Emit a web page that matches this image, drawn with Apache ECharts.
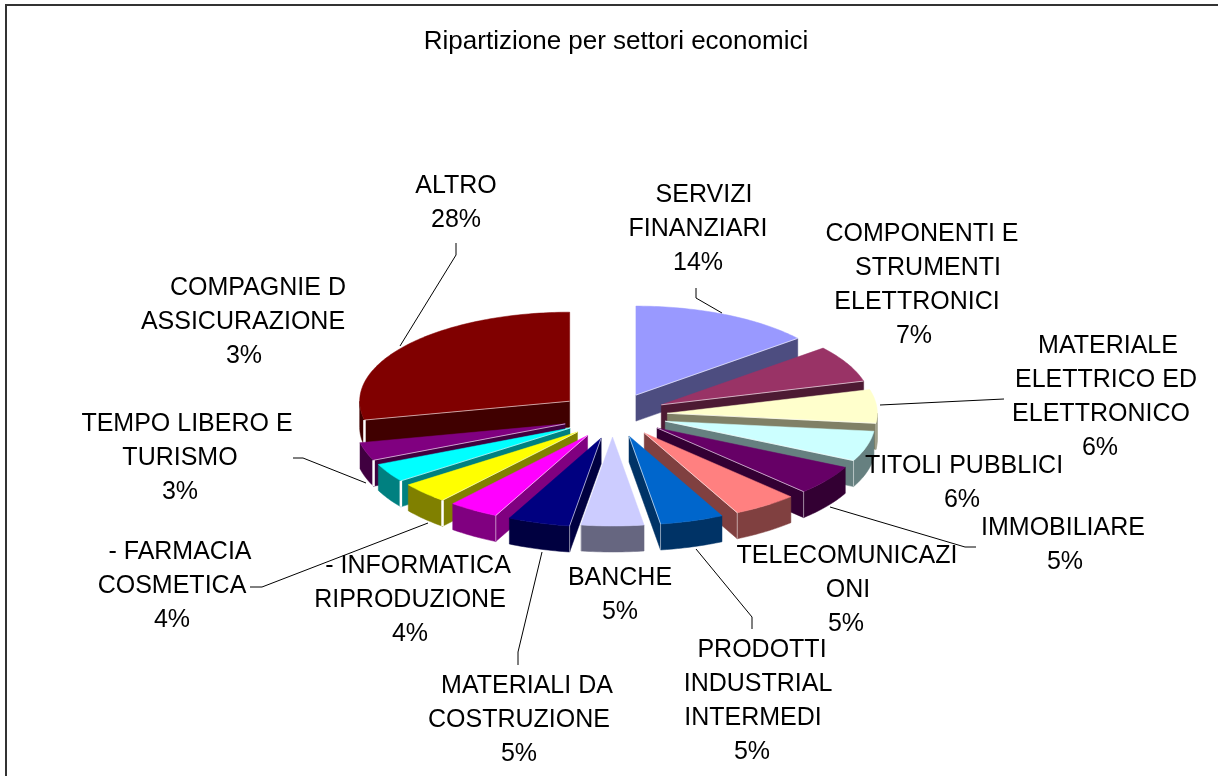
<!DOCTYPE html>
<html>
<head>
<meta charset="utf-8">
<style>
  html, body { margin: 0; padding: 0; background: #fff; }
  #chart { width: 1218px; height: 776px; }
</style>
<script src="https://cdn.jsdelivr.net/npm/echarts@6/dist/echarts.min.js"></script>
</head>
<body>
<div id="chart"></div>
<script>
const chartTitle = 'Ripartizione per settori economici'
const sectors = [
  ['SERVIZI', 'FINANZIARI'],
  ['COMPONENTI E', 'STRUMENTI', 'ELETTRONICI'],
  ['MATERIALE', 'ELETTRICO ED', 'ELETTRONICO'],
  ['TITOLI PUBBLICI'],
  ['IMMOBILIARE'],
  ['TELECOMUNICAZI', 'ONI'],
  ['PRODOTTI', 'INDUSTRIAL', 'INTERMEDI'],
  ['BANCHE'],
  ['MATERIALI DA', 'COSTRUZIONE'],
  ['- INFORMATICA', 'RIPRODUZIONE'],
  ['- FARMACIA', 'COSMETICA'],
  ['TEMPO LIBERO E', 'TURISMO'],
  ['COMPAGNIE D', 'ASSICURAZIONE'],
  ['ALTRO'],
]
// labels show these rounded, the slice widths give the decimals
const shares = [14, 6.7, 6.1, 5.5, 5.4, 5, 4.9, 4.8, 4.8, 3.9, 3.8, 3.4, 3.3, 28.4]
const sliceColors = [
  '#9999FF', '#993366', '#FFFFCC', '#CCFFFF', '#660066', '#FF8080', '#0066CC',
  '#CCCCFF', '#000080', '#FF00FF', '#FFFF00', '#00FFFF', '#800080', '#800000',
]

// 3D pie geometry
const pie = { cx: 612.5, cy: 415, a: 210, b: 89, depth: 26, explodeX: 55, explodeY: 22 }

// where each label line sits: centre x of each line, y of the first line
const labelPlaces = [
  { xs: [704, 698, 698], y: 194 },
  { xs: [922, 928, 917, 914], y: 233 },
  { xs: [1108, 1106, 1101, 1100], y: 345 },
  { xs: [964, 962], y: 465 },
  { xs: [1063, 1065], y: 527 },
  { xs: [847, 848, 846], y: 555 },
  { xs: [762, 758, 753, 752], y: 649 },
  { xs: [620, 620], y: 577 },
  { xs: [527, 519, 519], y: 685 },
  { xs: [418, 410, 410], y: 565 },
  { xs: [180, 172, 172], y: 551 },
  { xs: [187, 180, 180], y: 423 },
  { xs: [258, 243, 244], y: 287 },
  { xs: [456, 456], y: 185 },
]
const LINE_HEIGHT = 34

// leader lines
const leaders = [
  [[456, 243], [456, 255], [400, 346]],
  [[696, 288], [696, 298], [722, 313]],
  [[1004, 399], [880, 405]],
  [[976, 547], [965, 547], [830, 507]],
  [[696, 549], [752, 617], [752, 629]],
  [[542, 552], [518, 652], [518, 665]],
  [[250, 587], [262, 587], [428, 523]],
  [[293, 458], [303, 458], [366, 483]],
]

const RAD = Math.PI / 180
const total = shares.reduce((s, v) => s + v, 0)

// start / end angle (degrees, clockwise from 12 o'clock) of every slice
let running = 0
const angles = shares.map((v) => {
  const start = (running / total) * 360
  running += v
  return [start, (running / total) * 360]
})

// back slices have to be painted first
const paintOrder = shares
  .map((v, i) => i)
  .sort((p, q) => {
    const mid = (i) => (angles[i][0] + angles[i][1]) / 2
    return -Math.cos(mid(p) * RAD) + Math.cos(mid(q) * RAD)
  })

const darken = (hex) => echarts.color.lerp(0.5, [hex, '#000000'])

const renderSlice = (params, api) => {
  const i = api.value(0)
  const [start, end] = [api.value(1), api.value(2)]
  const mid = ((start + end) / 2) * RAD
  // the perspective of the original pushes the front left slices in a little
  const frontLeft = Math.sin(mid) < -0.1 && Math.cos(mid) < 0
  const ox = pie.cx + pie.explodeX * Math.sin(mid) + (frontLeft ? 5 : 0)
  const oy = pie.cy - pie.explodeY * Math.cos(mid) + (frontLeft ? 2 : 0)
  const rim = (deg) => [ox + pie.a * Math.sin(deg * RAD), oy - pie.b * Math.cos(deg * RAD)]
  const down = (p) => [p[0], p[1] + pie.depth]
  const arc = (from, to) => {
    const pts = []
    for (let d = from; d < to; d += 1) pts.push(rim(d))
    pts.push(rim(to))
    return pts
  }
  const wallColor = darken(sliceColors[i])
  const poly = (points, fill) => ({
    type: 'polygon',
    shape: { points },
    style: { fill, stroke: fill, lineWidth: 0.5 },
  })
  const line = (points, lineWidth, opacity) => ({
    type: 'polyline',
    shape: { points },
    style: { stroke: '#fff', fill: null, lineWidth, opacity },
  })
  const walls = []
  const highlights = []

  // radial walls, only the ones facing the viewer
  ;[
    [start, Math.sin(start * RAD) < 0],
    [end, Math.sin(end * RAD) > 0],
  ].forEach(([deg, facing]) => {
    if (!facing) return
    const p = rim(deg)
    walls.push(poly([[ox, oy], p, down(p), [ox, oy + pie.depth]], wallColor))
    highlights.push(line([[ox, oy], p], 1, 0.6))
  })
  // outer wall on the front half
  const from = Math.max(start, 90)
  const to = Math.min(end, 270)
  if (from < to) {
    const edge = arc(from, to)
    walls.push(poly(edge.concat(edge.map(down).reverse()), wallColor))
    // light seam where the outer wall meets the radial wall
    const seam = Math.sin(start * RAD) < 0 ? start : end
    const p = rim(seam)
    highlights.push(line([p, down(p)], seam > 215 ? 2.5 : 1, seam > 215 ? 1 : 0.5))
  }
  const top = poly([[ox, oy]].concat(arc(start, end)), sliceColors[i])
  return { type: 'group', children: walls.concat(top, highlights) }
}

// label texts and leader lines
const graphics = []
sectors.forEach((lines, i) => {
  const place = labelPlaces[i]
  lines.concat(Math.round(shares[i]) + '%').forEach((text, n) => {
    graphics.push({
      type: 'text',
      z: 100,
      silent: true,
      style: {
        x: place.xs[n],
        y: place.y + 1 + n * LINE_HEIGHT,
        text,
        fill: '#000',
        font: '25px "Liberation Sans", Arial, sans-serif',
        align: 'center',
        verticalAlign: 'middle',
      },
    })
  })
})
leaders.forEach((points) => {
  graphics.push({
    type: 'polyline',
    z: 90,
    silent: true,
    shape: { points },
    style: { stroke: '#000', lineWidth: 1, fill: null },
  })
})
// chart frame, open on the right and the bottom
graphics.push({
  type: 'polyline',
  z: 90,
  silent: true,
  shape: { points: [[6, 776], [6, 5], [1218, 5]] },
  style: { stroke: '#333', lineWidth: 2, fill: null },
})

const myChart = echarts.init(document.getElementById('chart'))
myChart.setOption({
  animation: false,
  backgroundColor: '#fff',
  title: {
    text: chartTitle,
    left: 616,
    top: 42,
    textAlign: 'center',
    textVerticalAlign: 'middle',
    padding: 0,
    textStyle: {
      color: '#000',
      fontWeight: 'normal',
      fontSize: 26,
      fontFamily: '"Liberation Sans", Arial, sans-serif',
    },
  },
  series: [
    {
      type: 'custom',
      coordinateSystem: 'none',
      silent: true,
      renderItem: renderSlice,
      data: paintOrder.map((i) => [i, angles[i][0], angles[i][1]]),
    },
  ],
  graphic: graphics,
})
</script>
</body>
</html>
